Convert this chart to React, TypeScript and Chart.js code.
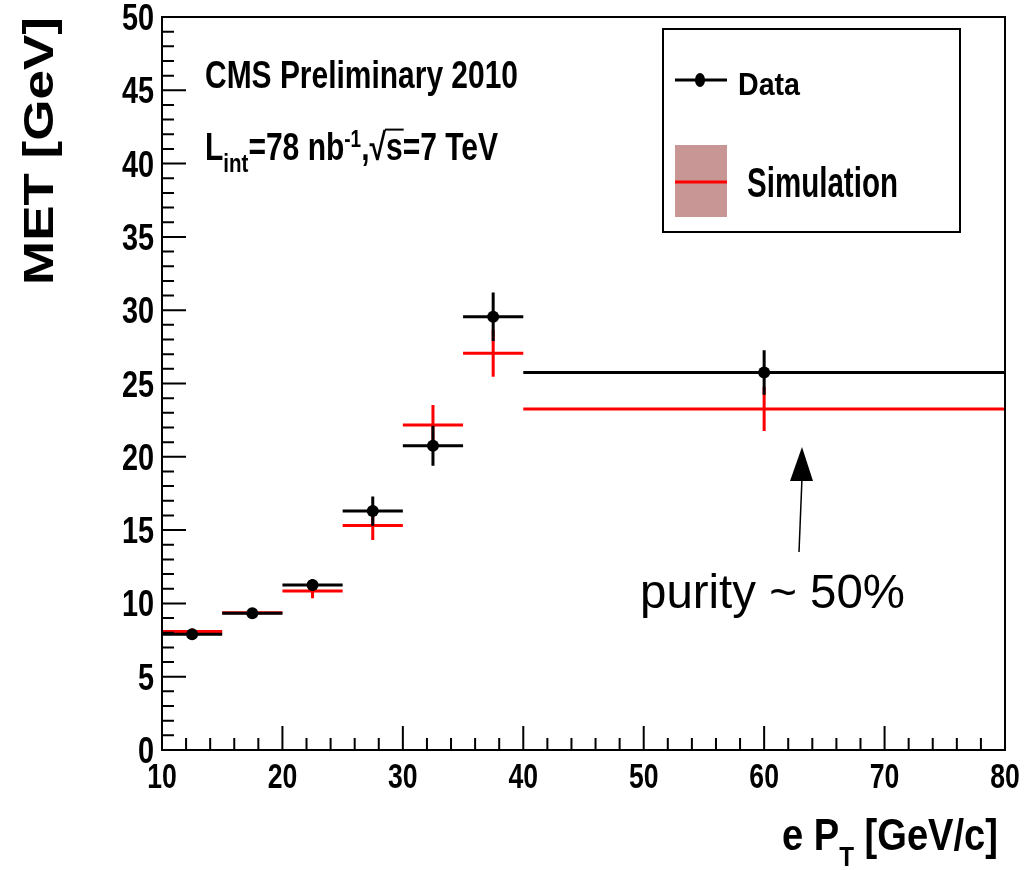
import React, { useEffect, useRef } from "react";
import { Chart, registerables } from "chart.js";

Chart.register(...registerables);

// ---- data ----
const binEdges = [10, 15, 20, 25, 30, 35, 40, 80];
const binCenters = [12.5, 17.5, 22.5, 27.5, 32.5, 37.5, 60];
const dataValues = [7.9, 9.33, 11.25, 16.3, 20.75, 29.55, 25.75];
const dataErrors = [0.3, 0.3, 0.4, 1.0, 1.36, 1.65, 1.52];
const simValues = [8.08, 9.36, 10.85, 15.32, 22.17, 27.06, 23.26];
const simErrors = [0.2, 0.25, 0.5, 1.0, 1.36, 1.6, 1.5];
const xTickLabels = [10, 20, 30, 40, 50, 60, 70, 80];
const yTickLabels = [0, 5, 10, 15, 20, 25, 30, 35, 40, 45, 50];
const xMinorTicks = [12, 14, 16, 18, 22, 24, 26, 28, 32, 34, 36, 38, 42, 44, 46, 48, 52, 54, 56, 58, 62, 64, 66, 68, 72, 74, 76, 78];
const yMinorTicks = [1, 2, 3, 4, 6, 7, 8, 9, 11, 12, 13, 14, 16, 17, 18, 19, 21, 22, 23, 24, 26, 27, 28, 29, 31, 32, 33, 34, 36, 37, 38, 39, 41, 42, 43, 44, 46, 47, 48, 49];
const seriesLabels = ["Data", "Simulation"];

const FAM = "'Liberation Sans', Arial, Helvetica, sans-serif";
const bold = (n: number) => `bold ${n}px ${FAM}`;
const SX = 0.78;

function drawText(ctx: CanvasRenderingContext2D, s: string, x: number, y: number, font: string, align: string = "left", sx: number = SX) {
  ctx.save();
  ctx.font = font;
  ctx.textBaseline = "alphabetic";
  ctx.textAlign = "left";
  const w = ctx.measureText(s).width * sx;
  let x0 = x;
  if (align === "center") x0 = x - w / 2;
  else if (align === "right") x0 = x - w;
  ctx.translate(x0, y);
  ctx.scale(sx, 1);
  ctx.fillStyle = "#000";
  ctx.fillText(s, 0, 0);
  ctx.restore();
  return w;
}

function fitText(ctx: CanvasRenderingContext2D, s: string, x: number, y: number, font: string, width: number) {
  ctx.save();
  ctx.font = font;
  const sx = width / ctx.measureText(s).width;
  ctx.restore();
  drawText(ctx, s, x, y, font, "left", sx);
}

type Seg = { t: string; size: number; dy: number; over?: boolean };

function drawSegments(ctx: CanvasRenderingContext2D, segs: Seg[], x: number, base: number, width: number) {
  let total = 0;
  ctx.save();
  for (const s of segs) {
    ctx.font = bold(s.size);
    total += ctx.measureText(s.t).width;
  }
  ctx.restore();
  const sx = width / total;
  let cx = x;
  for (const s of segs) {
    const w = drawText(ctx, s.t, cx, base + s.dy, bold(s.size), "left", sx);
    if (s.over) {
      ctx.save();
      ctx.strokeStyle = "#000";
      ctx.lineWidth = 2;
      ctx.beginPath();
      ctx.moveTo(cx - 1, base - s.size * 0.8);
      ctx.lineTo(cx + w + 1, base - s.size * 0.8);
      ctx.stroke();
      ctx.restore();
    }
    cx += w;
  }
}

const errorBarPlugin = {
  id: "errorBars",
  beforeDatasetsDraw(chart: any) {
    const ctx: CanvasRenderingContext2D = chart.ctx;
    const xs = chart.scales.x;
    const ys = chart.scales.y;
    const drawSet = (vals: number[], errs: number[], color: string) => {
      ctx.save();
      ctx.strokeStyle = color;
      ctx.lineWidth = 3;
      ctx.lineCap = "butt";
      for (let i = 0; i < vals.length; i++) {
        const y = ys.getPixelForValue(vals[i]);
        const xc = xs.getPixelForValue(binCenters[i]);
        ctx.beginPath();
        ctx.moveTo(xs.getPixelForValue(binEdges[i]), y);
        ctx.lineTo(xs.getPixelForValue(binEdges[i + 1]), y);
        ctx.moveTo(xc, ys.getPixelForValue(vals[i] + errs[i]));
        ctx.lineTo(xc, ys.getPixelForValue(vals[i] - errs[i]));
        ctx.stroke();
      }
      ctx.restore();
    };
    drawSet(simValues, simErrors, "#ff0000");
    drawSet(dataValues, dataErrors, "#000000");
  },
};

const decorPlugin = {
  id: "decor",
  afterDraw(chart: any) {
    const ctx: CanvasRenderingContext2D = chart.ctx;
    const xs = chart.scales.x;
    const ys = chart.scales.y;
    const a = chart.chartArea;
    ctx.save();
    ctx.strokeStyle = "#000";
    // frame
    ctx.lineWidth = 2;
    ctx.strokeRect(a.left, a.top, a.right - a.left, a.bottom - a.top);
    // ticks
    ctx.lineWidth = 2;
    ctx.beginPath();
    for (const v of yTickLabels) {
      const y = ys.getPixelForValue(v);
      ctx.moveTo(a.left, y);
      ctx.lineTo(a.left + 24, y);
    }
    for (const v of yMinorTicks) {
      const y = ys.getPixelForValue(v);
      ctx.moveTo(a.left, y);
      ctx.lineTo(a.left + 12, y);
    }
    for (const v of xTickLabels) {
      const x = xs.getPixelForValue(v);
      ctx.moveTo(x, a.bottom);
      ctx.lineTo(x, a.bottom - 24);
    }
    for (const v of xMinorTicks) {
      const x = xs.getPixelForValue(v);
      ctx.moveTo(x, a.bottom);
      ctx.lineTo(x, a.bottom - 12);
    }
    ctx.stroke();
    ctx.restore();

    // tick labels
    for (const v of yTickLabels) {
      drawText(ctx, String(v), a.left - 8, ys.getPixelForValue(v) + 13, bold(37), "right", 0.78);
    }
    for (const v of xTickLabels) {
      drawText(ctx, String(v), xs.getPixelForValue(v), a.bottom + 38, bold(35), "center", 0.76);
    }

    // axis titles
    ctx.save();
    ctx.font = bold(42);
    const ytitle = "MET [GeV]";
    const yw = ctx.measureText(ytitle).width;
    ctx.translate(53, 285);
    ctx.rotate(-Math.PI / 2);
    ctx.scale(268 / yw, 1);
    ctx.fillStyle = "#000";
    ctx.fillText(ytitle, 0, 0);
    ctx.restore();

    drawSegments(
      ctx,
      [
        { t: "e P", size: 44, dy: 0 },
        { t: "T", size: 28, dy: 16 },
        { t: " [GeV/c]", size: 44, dy: 0 },
      ],
      782,
      850,
      216
    );

    // CMS labels
    fitText(ctx, "CMS Preliminary 2010", 205, 88, bold(38), 313);
    drawSegments(
      ctx,
      [
        { t: "L", size: 38, dy: 0 },
        { t: "int", size: 26, dy: 12 },
        { t: "=78 nb", size: 38, dy: 0 },
        { t: "-1", size: 24, dy: -13 },
        { t: ",", size: 38, dy: 0 },
        { t: "\u221A", size: 38, dy: 0 },
        { t: "s", size: 38, dy: 0, over: true },
        { t: "=7 TeV", size: 38, dy: 0 },
      ],
      205,
      160,
      293
    );

    // legend
    ctx.save();
    ctx.strokeStyle = "#000";
    ctx.lineWidth = 2;
    ctx.strokeRect(663, 29, 297, 203);
    ctx.lineWidth = 3;
    ctx.beginPath();
    ctx.moveTo(675, 80);
    ctx.lineTo(727, 80);
    ctx.stroke();
    ctx.fillStyle = "#000";
    ctx.beginPath();
    ctx.ellipse(700, 80, 5, 7, 0, 0, Math.PI * 2);
    ctx.fill();
    ctx.fillStyle = "rgb(201,150,150)";
    ctx.fillRect(675, 145, 52, 72);
    ctx.strokeStyle = "#ff0000";
    ctx.beginPath();
    ctx.moveTo(675, 182);
    ctx.lineTo(727, 182);
    ctx.stroke();
    ctx.restore();
    fitText(ctx, seriesLabels[0], 738, 95, bold(31), 62);
    fitText(ctx, seriesLabels[1], 747, 197, bold(42), 151);

    // annotation arrow
    ctx.save();
    ctx.strokeStyle = "#000";
    ctx.fillStyle = "#000";
    ctx.lineWidth = 1.5;
    ctx.beginPath();
    ctx.moveTo(799, 552);
    ctx.lineTo(802, 478);
    ctx.stroke();
    ctx.beginPath();
    ctx.moveTo(802, 447);
    ctx.lineTo(790, 481);
    ctx.lineTo(813, 481);
    ctx.closePath();
    ctx.fill();
    ctx.restore();
    ctx.save();
    ctx.font = `48px ${FAM}`;
    const pw = ctx.measureText("purity ~ 50%").width;
    ctx.restore();
    drawText(ctx, "purity ~ 50%", 640, 608, `48px ${FAM}`, "left", 265 / pw);
  },
};

export default function App() {
  const ref = useRef<HTMLCanvasElement | null>(null);
  useEffect(() => {
    if (!ref.current) return;
    const chart = new Chart(ref.current, {
      type: "scatter",
      data: {
        datasets: [
          {
            label: seriesLabels[1],
            data: binCenters.map((x, i) => ({ x, y: simValues[i] })),
            pointRadius: 0,
            borderColor: "#ff0000",
            backgroundColor: "#ff0000",
          },
          {
            label: seriesLabels[0],
            data: binCenters.map((x, i) => ({ x, y: dataValues[i] })),
            pointRadius: 6,
            pointBackgroundColor: "#000",
            pointBorderColor: "#000",
            pointBorderWidth: 0,
          },
        ],
      },
      options: {
        responsive: false,
        animation: false,
        devicePixelRatio: 1,
        layout: { padding: { left: 162, top: 17, right: 31, bottom: 120 } },
        plugins: { legend: { display: false }, tooltip: { enabled: false } },
        scales: {
          x: { type: "linear", min: 10, max: 80, display: false },
          y: { type: "linear", min: 0, max: 50, display: false },
        },
      },
      plugins: [errorBarPlugin, decorPlugin],
    });
    return () => chart.destroy();
  }, []);
  return (
    <div style={{ position: "fixed", left: 0, top: 0, width: 1036, height: 870, background: "#fff" }}>
      <canvas ref={ref} width={1036} height={870} style={{ display: "block" }} />
    </div>
  );
}
